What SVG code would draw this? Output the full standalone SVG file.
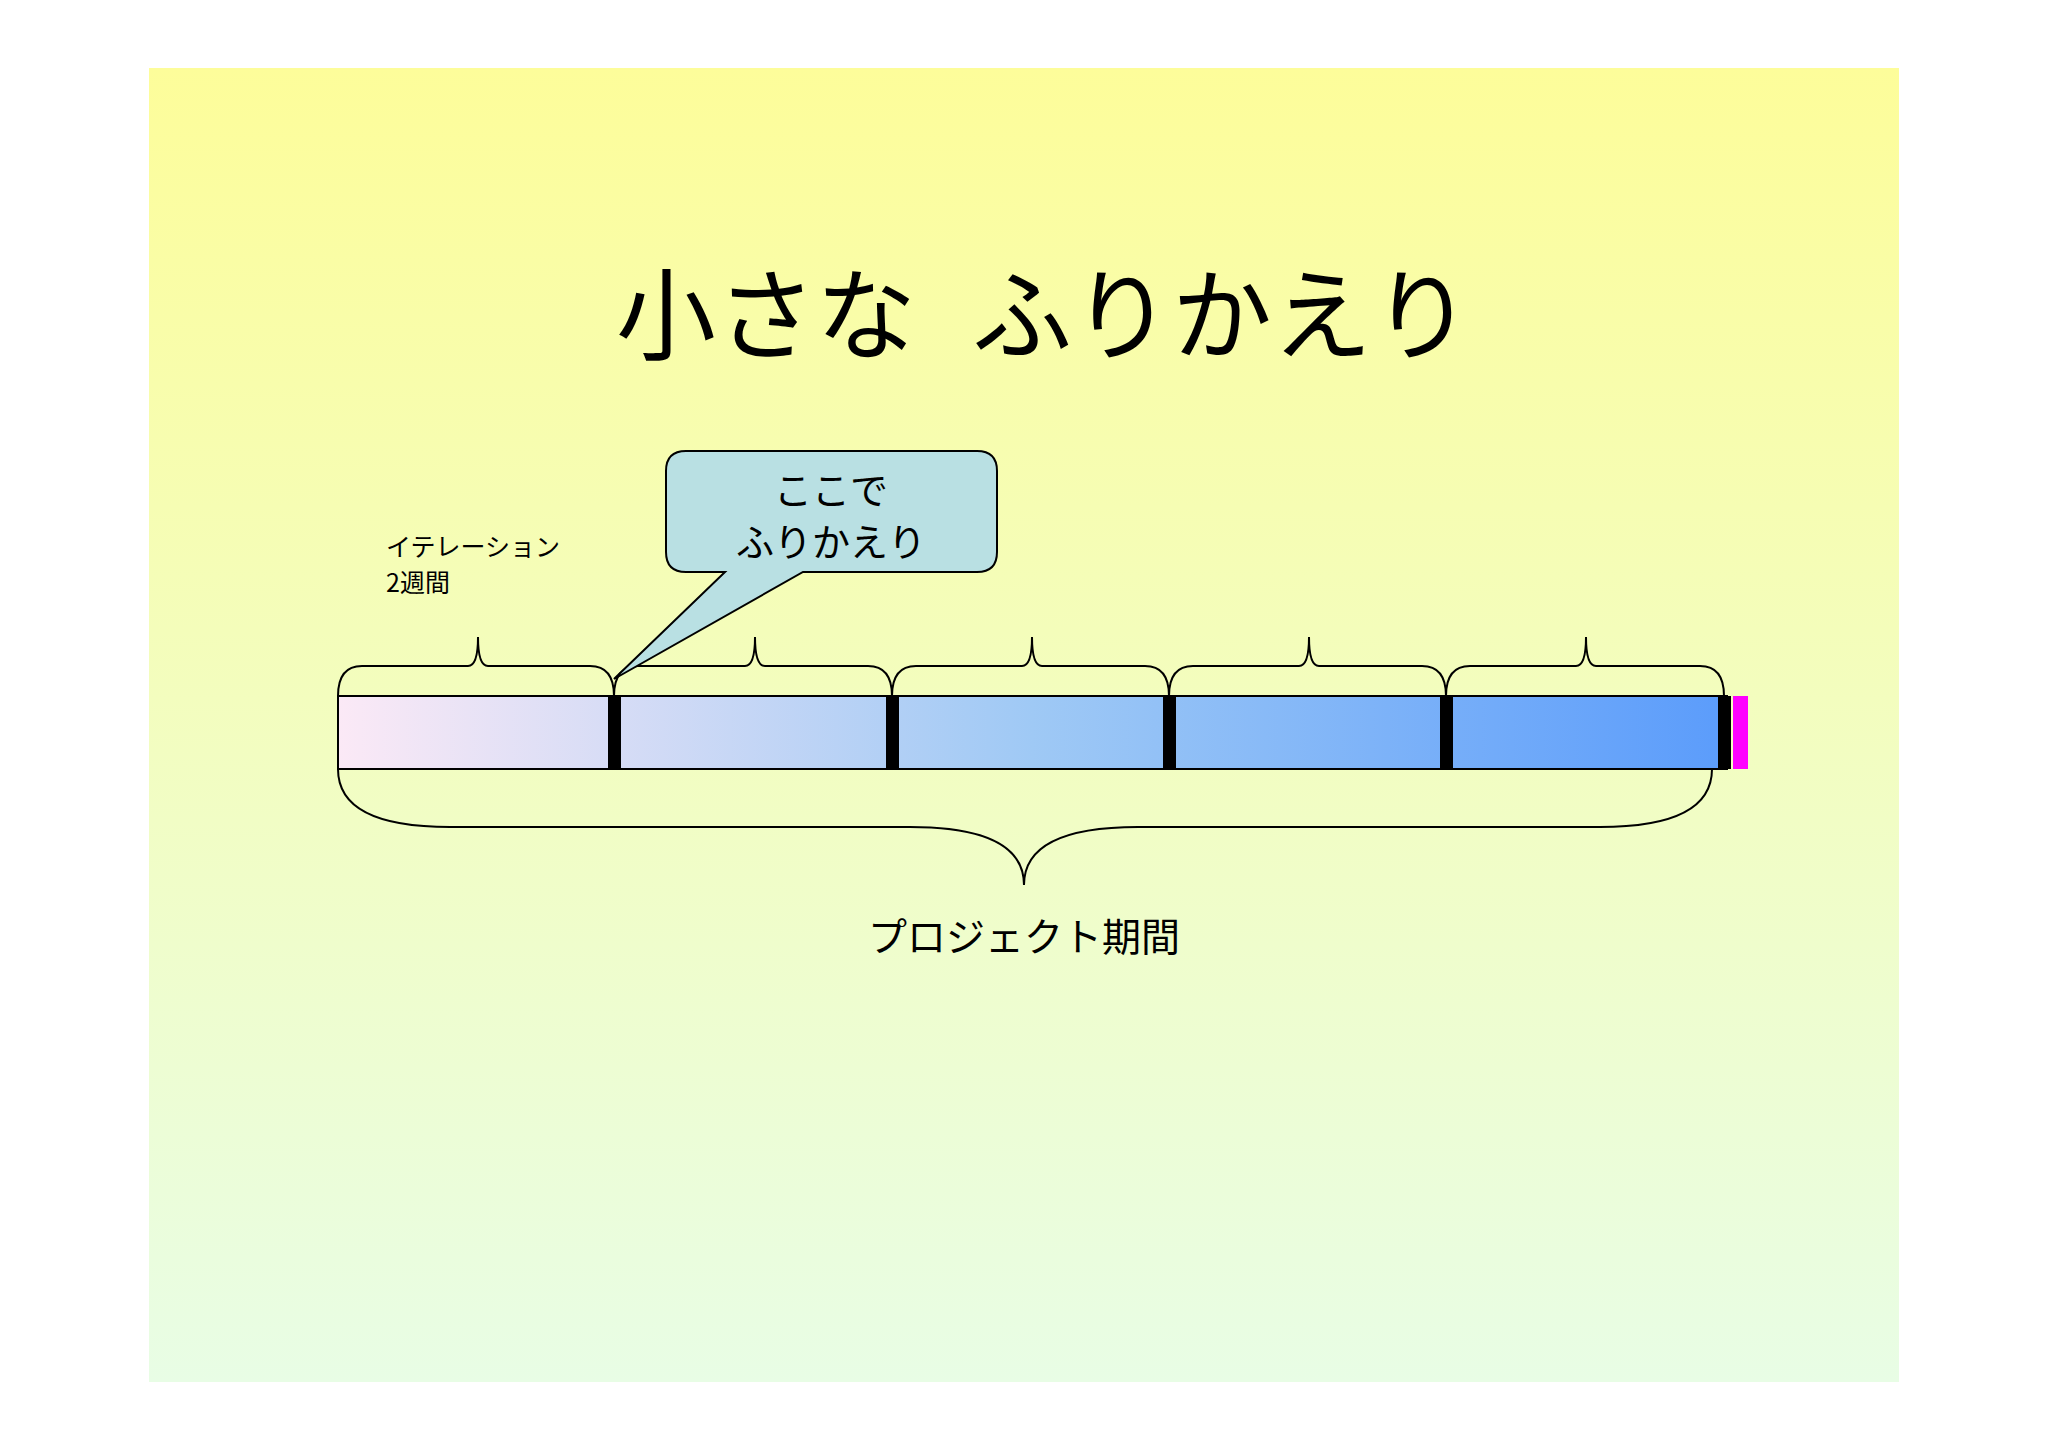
<svg xmlns="http://www.w3.org/2000/svg" width="2048" height="1448" viewBox="0 0 2048 1448">
<defs>
<linearGradient id="bg" x1="0" y1="0" x2="0" y2="1"><stop offset="0" stop-color="#fdfd9a"/><stop offset="1" stop-color="#e8fde5"/></linearGradient>
<linearGradient id="bar" x1="0" y1="0" x2="1" y2="0"><stop offset="0" stop-color="#fbe9f6"/><stop offset="0.5" stop-color="#9fc9f5"/><stop offset="1" stop-color="#5b9cfb"/></linearGradient>
<style>
.t{font-family:"Noto Sans CJK JP","Noto Sans",sans-serif;fill:#000}
.br{fill:none;stroke:#000;stroke-width:2}
.sep{fill:#000}
</style>
</defs>
<rect width="2048" height="1448" fill="#fff"/>
<rect x="149" y="68" width="1750" height="1314" fill="url(#bg)"/>
<text class="t" x="616" y="352" font-size="100">小さな</text>
<text class="t" x="972" y="352" font-size="100">ふりかえり</text>
<g id="bar-group">
<rect x="338" y="696" width="1389" height="73" fill="url(#bar)" stroke="#000" stroke-width="2"/>
<rect class="sep" x="608" y="696" width="13" height="73"/>
<rect class="sep" x="886" y="696" width="13" height="73"/>
<rect class="sep" x="1163" y="696" width="13" height="73"/>
<rect class="sep" x="1440" y="696" width="13" height="73"/>
<rect class="sep" x="1718" y="696" width="13" height="73"/>
<rect x="1733" y="696" width="15" height="73" fill="#ff00ff"/>
</g>
<g id="connectors">
<path class="br" d="M338,696 Q338,666 362,666 L468,666 Q478,666 478,637 Q478,666 488,666 L590,666 Q614,666 614,696"/>
<path class="br" d="M614,696 Q614,666 638,666 L745,666 Q755,666 755,637 Q755,666 765,666 L868,666 Q892,666 892,696"/>
<path class="br" d="M892,696 Q892,666 916,666 L1022,666 Q1032,666 1032,637 Q1032,666 1042,666 L1145,666 Q1169,666 1169,696"/>
<path class="br" d="M1169,696 Q1169,666 1193,666 L1299,666 Q1309,666 1309,637 Q1309,666 1319,666 L1422,666 Q1446,666 1446,696"/>
<path class="br" d="M1446,696 Q1446,666 1470,666 L1576,666 Q1586,666 1586,637 Q1586,666 1596,666 L1700,666 Q1724,666 1724,696"/>
<path class="br" d="M338,769 Q338,827 450,827 L910,827 Q1024,827 1024,885 Q1024,827 1138,827 L1600,827 Q1712,827 1712,769"/>
</g>
<g id="callout">
<path d="M686,451 L977,451 Q997,451 997,471 L997,552 Q997,572 977,572 L803,572 L614,679 L725,572 L686,572 Q666,572 666,552 L666,471 Q666,451 686,451 Z" fill="#b9e0e3" stroke="#000" stroke-width="2"/>
<text class="t" x="831" y="504" font-size="38" text-anchor="middle">ここで</text>
<text class="t" x="831" y="556" font-size="38" text-anchor="middle">ふりかえり</text>
</g>
<g id="labels">
<text class="t" x="386" y="556" font-size="25">イテレーション</text>
<text class="t" x="386" y="592" font-size="25">2週間</text>
<text class="t" x="1024" y="951" font-size="39" text-anchor="middle">プロジェクト期間</text>
</g>
</svg>
